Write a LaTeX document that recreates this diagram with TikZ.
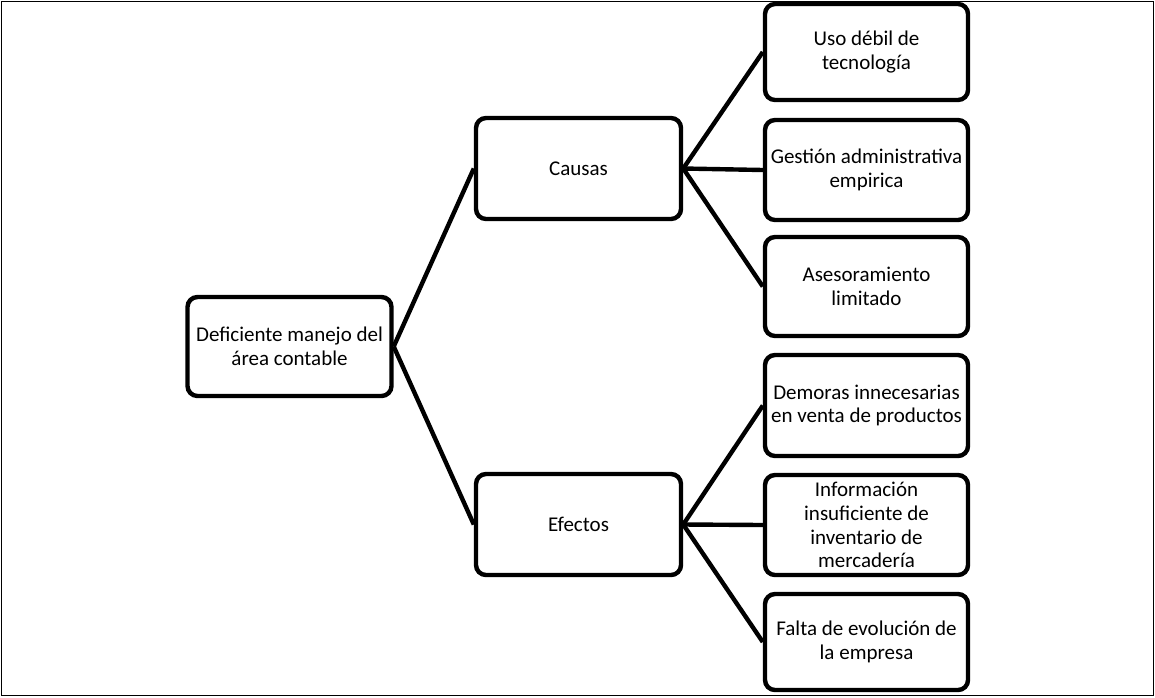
\documentclass[tikz,border=0pt]{standalone}
\usepackage{fontspec}
\setmainfont{Carlito}
\usepackage{tikz}
\usetikzlibrary{positioning}
\tikzstyle{caja}  = [draw, line width=2.2pt, rounded corners=5pt, align=center, inner xsep=0.5pt, minimum width=102pt, minimum height=50pt, font=\fontsize{10.5}{11.9}\selectfont]
\tikzstyle{linea} = [line width=2.2pt]

\begin{document}
\begin{tikzpicture}[x=0.5pt, y=-0.5pt,
			hoja/.style={caja, minimum width=101.5pt}]

		\useasboundingbox (0,0) rectangle (1155,697);
		\draw[line width=0.5pt] (1,1) rectangle (1153,695);

		\node[caja, minimum height=49.5pt] (raiz) at (289.5,346.5) {Deficiente manejo del\\área contable};
		\node[caja, minimum width=102.5pt, minimum height=50.5pt] (causas) at (578.5,168.5) {Causas};
		\node[caja, minimum width=102.5pt, minimum height=50.5pt] (efectos) at (578.5,524.5) {Efectos};

		% causas
		\node[hoja, minimum height=48pt] (c1) at (866.5,52) {Uso débil de\\tecnología};
		\node[hoja] (c2) at (866.5,170) {Gestión administrativa\\empirica};
		\node[hoja, minimum height=49.5pt] (c3) at (866.5,286.5) {Asesoramiento\\limitado};

		% efectos
		\node[hoja, minimum height=50.5pt] (e1) at (866.5,405.5) {Demoras innecesarias\\en venta de productos};
		\node[hoja] (e2) at (866.5,525) {Información\\insuficiente de\\inventario de\\mercadería};
		\node[hoja, minimum height=48pt] (e3) at (866.5,642) {Falta de evolución de\\la empresa};

		\draw[linea] (raiz.east) -- (causas.west);
		\draw[linea] (raiz.east) -- (efectos.west);
		\draw[linea] (causas.east) -- (c1.west);
		\draw[linea] (causas.east) -- (c2.west);
		\draw[linea] (causas.east) -- (c3.west);
		\draw[linea] (efectos.east) -- (e1.west);
		\draw[linea] (efectos.east) -- (e2.west);
		\draw[linea] (efectos.east) -- (e3.west);
	\end{tikzpicture}
\end{document}
